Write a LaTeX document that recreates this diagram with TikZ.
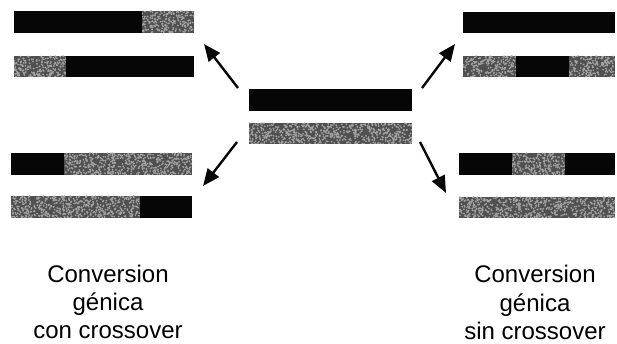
\documentclass[tikz,border=0pt]{standalone}
\usepackage{fontspec}
\setmainfont{Liberation Sans}
\usetikzlibrary{arrows.meta}
\definecolor{chromA}{HTML}{060606}
\definecolor{chromB}{HTML}{505050}
\definecolor{chromSpot}{HTML}{A4A4A4}
\tikzset{
  segA/.style={fill=chromA},
  segB/.style={fill=chromB},
  spot/.style={fill=chromSpot},
  arr/.style={line width=2.4pt, draw=chromA, -{Triangle[length=17pt,width=14pt]}},
  lbl/.style={anchor=base, inner sep=0pt, font=\fontsize{24}{28}\selectfont}
}
% mottled grey segment: dark base with scattered light specks
\newcommand\mottledseg[4]{%
  \fill[segB] (#1,#2) rectangle (#3,#4);
  \begin{scope}
    \clip (#1,#2) rectangle (#3,#4);
    \pgfmathtruncatemacro\ndots{(#3-#1)*(#4-#2)/5}
    \foreach \k in {1,...,\ndots}{%
      \pgfmathsetmacro\px{#1+rnd*(#3-#1)}%
      \pgfmathsetmacro\py{#2+rnd*(#4-#2)}%
      \fill[spot] (\px,\py) circle (0.95);
    }
  \end{scope}}
\begin{document}
\begin{tikzpicture}[x=1pt,y=-1pt]
\pgfmathsetseed{1234}
\useasboundingbox (0,0) rectangle (617,344);

% parental chromatids
\fill[segA] (249,89) rectangle (412,111);
\mottledseg{249}{123}{412}{144}
\coordinate (cUL) at (238,88);
\coordinate (cLL) at (237,142);
\coordinate (cUR) at (422,88);
\coordinate (cLR) at (420,142);

% products with crossover (upper left)
\fill[segA] (14,11) rectangle (142,33);
\mottledseg{142}{11}{194}{33}
\mottledseg{14}{56}{66}{77}
\fill[segA] (66,56) rectangle (194,77);
\coordinate (pUL) at (204,44);

% products with crossover (lower left)
\fill[segA] (11,153) rectangle (64,175);
\mottledseg{64}{153}{192}{175}
\mottledseg{11}{196}{140}{218}
\fill[segA] (140,196) rectangle (192,218);
\coordinate (pLL) at (203,186);

% products without crossover (upper right)
\fill[segA] (463,12) rectangle (615,33);
\mottledseg{463}{56}{516}{77}
\fill[segA] (516,56) rectangle (569,77);
\mottledseg{569}{56}{615}{77}
\coordinate (pUR) at (455,44);

% products without crossover (lower right)
\fill[segA] (459,153) rectangle (512,175);
\mottledseg{512}{153}{565}{175}
\fill[segA] (565,153) rectangle (615,175);
\mottledseg{459}{197}{615}{218}
\coordinate (pLR) at (446,193);

% arrows
\draw[arr] (cUL) -- (pUL);
\draw[arr] (cLL) -- (pLL);
\draw[arr] (cUR) -- (pUR);
\draw[arr] (cLR) -- (pLR);

% captions
\node[lbl] (l1) at (108,282) {Conversion};
\node[lbl] (l2) at (108,310) {génica};
\node[lbl] (l3) at (108,338) {con crossover};
\node[lbl] (r1) at (535,282) {Conversion};
\node[lbl] (r2) at (535,311) {génica};
\node[lbl] (r3) at (535,339) {sin crossover};
\end{tikzpicture}
\end{document}
